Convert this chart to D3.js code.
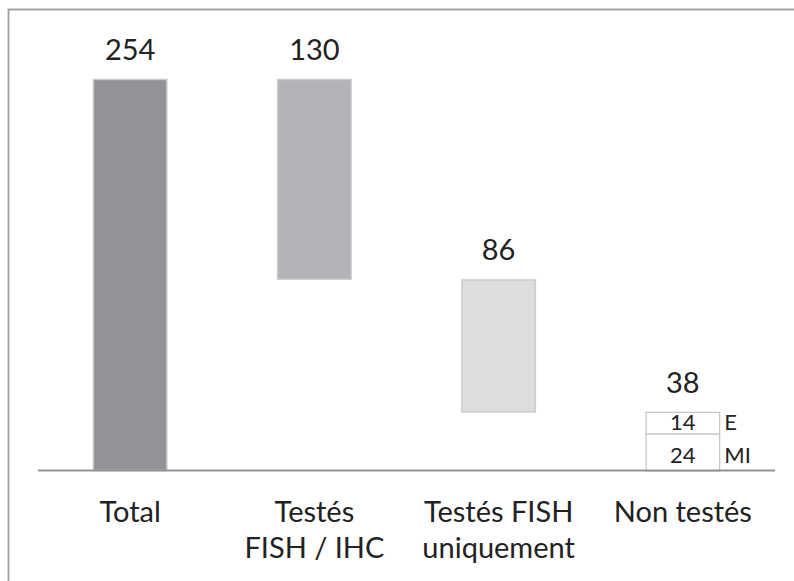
<!DOCTYPE html>
<html>
<head>
<meta charset="utf-8">
<script src="https://cdn.jsdelivr.net/npm/d3@7"></script>
<style>
  html, body { margin: 0; padding: 0; background: #fff; }
  svg { display: block; }
  text { font-family: Lato, "Open Sans", sans-serif; fill: #222; }
</style>
</head>
<body>
<svg id="chart" width="794" height="581"></svg>
<script>
// Waterfall breakdown of patients by testing status
const categories = ["Total", "Testés FISH / IHC", "Testés FISH uniquement", "Non testés"];
const categoryLines = [["Total"], ["Testés", "FISH / IHC"], ["Testés FISH", "uniquement"], ["Non testés"]];
const values = [254, 130, 86, 38];
const barColors = ["#929397", "#b2b3b6", "#dcdddf", "#ffffff"];

// split of the "Non testés" column, stacked from the baseline up
const subCategories = ["MI", "E"];
const subValues = [24, 14];

const svg = d3.select("#chart");
const W = 794, H = 581;

// outer frame (runs off the right and bottom edges)
svg.append("path")
  .attr("d", `M8.5,${H + 5} L8.5,9.5 L${W + 5},9.5`)
  .attr("fill", "none")
  .attr("stroke", "#a3a3a3")
  .attr("stroke-width", 1.8);

const x = d3.scaleBand()
  .domain(categories)
  .range([38, 775])
  .paddingInner(0.593)
  .paddingOuter(0.2965);

const y = d3.scaleLinear()
  .domain([0, 254])
  .range([470.5, 78.7]);

// waterfall extents: total from zero, then successive drops, last column from zero
const segments = [];
let level = values[0];
values.forEach((v, i) => {
  if (i === 0) segments.push({ cat: categories[i], lo: 0, hi: v, value: v, color: barColors[i] });
  else if (i === values.length - 1) segments.push({ cat: categories[i], lo: 0, hi: v, value: v, color: barColors[i] });
  else { segments.push({ cat: categories[i], lo: level - v, hi: level, value: v, color: barColors[i] }); level -= v; }
});

const main = segments.slice(0, 3);
svg.append("g").selectAll("rect")
  .data(main)
  .join("rect")
  .attr("x", d => x(d.cat) + 0.75)
  .attr("width", x.bandwidth() - 1.5)
  .attr("y", d => y(d.hi) + 0.75)
  .attr("height", d => y(d.lo) - y(d.hi) - 0.75)
  .attr("fill", d => d.color)
  .attr("stroke", "#cacbcd")
  .attr("stroke-width", 1.5);

// stacked sub-boxes of the last column
const lastCat = categories[categories.length - 1];
let acc = 0;
const subs = subValues.map((v, i) => {
  const s = { name: subCategories[i], lo: acc, hi: acc + v, value: v };
  acc += v;
  return s;
});
// text baseline inside each sub-box, measured up from its lower edge
const subBaseline = d => y(d.lo) - (d.lo === 0 ? 7.5 : 3.5);

const subG = svg.append("g");
subG.selectAll("rect")
  .data(subs)
  .join("rect")
  .attr("x", x(lastCat) + 0.75)
  .attr("width", x.bandwidth() - 1.5)
  .attr("y", d => y(d.hi) + 0.5)
  .attr("height", d => y(d.lo) - y(d.hi))
  .attr("fill", "#ffffff")
  .attr("stroke", "#c8c8c8")
  .attr("stroke-width", 1.3);

subG.selectAll("text.sv")
  .data(subs)
  .join("text")
  .attr("class", "sv")
  .attr("x", x(lastCat) + x.bandwidth() / 2)
  .attr("y", subBaseline)
  .attr("text-anchor", "middle")
  .attr("font-size", 22)
  .text(d => d.value);

subG.selectAll("text.sn")
  .data(subs)
  .join("text")
  .attr("class", "sn")
  .attr("x", x(lastCat) + x.bandwidth() + 4)
  .attr("y", subBaseline)
  .attr("font-size", 22)
  .text(d => d.name);

// baseline
svg.append("line")
  .attr("x1", x.range()[0]).attr("x2", x.range()[1])
  .attr("y1", y(0)).attr("y2", y(0))
  .attr("stroke", "#939397")
  .attr("stroke-width", 2);

// value labels above each column
svg.append("g").selectAll("text")
  .data(segments)
  .join("text")
  .attr("x", d => x(d.cat) + x.bandwidth() / 2)
  .attr("y", d => y(d.hi) - 19)
  .attr("text-anchor", "middle")
  .attr("font-size", 29)
  .text(d => d.value);

// category labels
const catG = svg.append("g").selectAll("text")
  .data(categories)
  .join("text")
  .attr("x", d => x(d) + x.bandwidth() / 2)
  .attr("y", 521.5)
  .attr("text-anchor", "middle")
  .attr("font-size", 29);
catG.each(function(d, i) {
  d3.select(this).selectAll("tspan")
    .data(categoryLines[i])
    .join("tspan")
    .attr("x", x(d) + x.bandwidth() / 2)
    .attr("dy", (l, j) => j === 0 ? 0 : 36.8)
    .text(l => l);
});
</script>
</body>
</html>
